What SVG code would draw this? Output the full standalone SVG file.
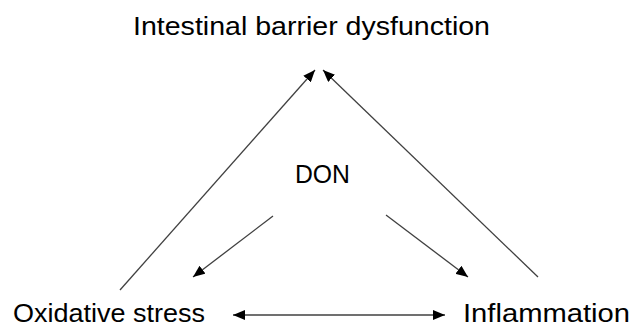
<svg xmlns="http://www.w3.org/2000/svg" width="633" height="327" viewBox="0 0 633 327">
<style>
.t{font-family:"Liberation Sans",Arial,sans-serif;font-size:25px;fill:#000}
.c{stroke:#404040;stroke-width:1.3;fill:none}
</style>
<defs>
<marker id="ah" viewBox="0 0 12 10" refX="12" refY="5" markerWidth="12" markerHeight="10" markerUnits="userSpaceOnUse" orient="auto-start-reverse">
<path d="M0,0 L12,5 L0,10 Z" fill="#000"/>
</marker>
</defs>
<rect width="633" height="327" fill="#fff"/>
<g id="node-barrier"><text class="t" x="133" y="35" textLength="357" lengthAdjust="spacingAndGlyphs">Intestinal barrier dysfunction</text></g>
<g id="node-don"><text class="t" x="295" y="183" textLength="55" lengthAdjust="spacingAndGlyphs">DON</text></g>
<g id="node-oxidative"><text class="t" x="13" y="322" textLength="192" lengthAdjust="spacingAndGlyphs">Oxidative stress</text></g>
<g id="node-inflammation"><text class="t" x="463" y="322" textLength="167" lengthAdjust="spacingAndGlyphs">Inflammation</text></g>
<g id="connectors">
<line class="c" x1="120" y1="290" x2="315" y2="70" marker-end="url(#ah)"/>
<line class="c" x1="538" y1="277" x2="323" y2="70" marker-end="url(#ah)"/>
<line class="c" x1="273" y1="216" x2="193" y2="277" marker-end="url(#ah)"/>
<line class="c" x1="386" y1="215" x2="468" y2="277" marker-end="url(#ah)"/>
<line class="c" x1="233" y1="315" x2="445" y2="315" marker-start="url(#ah)" marker-end="url(#ah)"/>
</g>
</svg>
